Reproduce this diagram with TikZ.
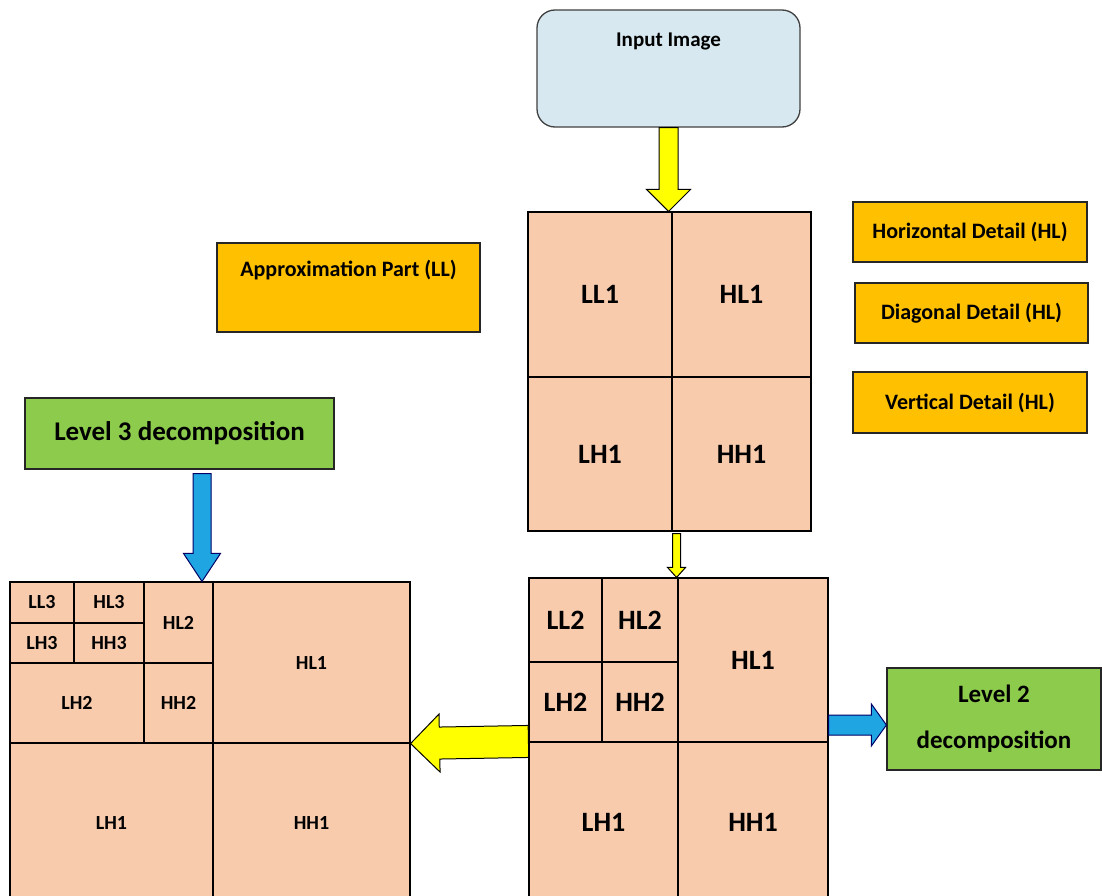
\documentclass[tikz,border=0pt]{standalone}
\usepackage{fontspec}
\setmainfont{Carlito}
\usetikzlibrary{calc}

\definecolor{peach}{HTML}{F8CBAD}
\definecolor{gold}{HTML}{FFC000}
\definecolor{leaf}{HTML}{8DCB4C}
\definecolor{paleblue}{HTML}{D8E8F0}
\definecolor{skyblue}{HTML}{1FA6E2}
\definecolor{brightyellow}{HTML}{FFFF00}

% a rectangle cell of a decomposition grid, given by its corners
\newcommand\gridcell[7][]{%
  \node[cell,#1,minimum width={(#5)-(#3)},minimum height={(#6)-(#4)}]
    (#2) at ({((#3)+(#5))/2},{((#4)+(#6))/2}) {#7};}

% a fat block arrow from tail #1 to tip #2:
% shaft half width #3, head half width #4, head length #5, style #6
\newcommand\blockarrow[6]{%
  \coordinate (ba-base) at ($(#2)!#5!(#1)$);
  \path[#6] ($(#1)!#3!90:(#2)$) -- ($(ba-base)!#3!90:(#2)$)
    -- ($(ba-base)!#4!90:(#2)$) -- (#2) -- ($(ba-base)!#4!-90:(#2)$)
    -- ($(ba-base)!#3!-90:(#2)$) -- ($(#1)!#3!-90:(#2)$) -- cycle;}

\begin{document}
\begin{tikzpicture}[x=1pt,y=-1pt,
  cell/.style={draw=black, line width=1.1pt, fill=peach, inner sep=0pt,
    font=\bfseries\fontsize{28}{30}\selectfont},
  smallcell/.style={font=\bfseries\fontsize{20}{22}\selectfont},
  tag/.style={draw=black!85, line width=1.1pt, fill=gold, inner sep=0pt,
    font=\bfseries\fontsize{22}{26}\selectfont},
  levelbox/.style={draw=black!85, line width=1.2pt, fill=leaf, inner sep=0pt,
    align=center},
  yellowarrow/.style={draw=black, line width=1pt, fill=brightyellow, line join=miter},
  bluearrow/.style={draw=black!60!blue, line width=1pt, fill=skyblue, line join=miter}]

\clip (0,0) rectangle (1102,896);
\fill[white] (0,0) rectangle (1102,896);

% input
\node[draw=black!75, line width=1.3pt, fill=paleblue, rounded corners=18pt,
  minimum width=263, minimum height=117, inner sep=0pt] (in) at (668.5,68.5) {};
\node[font=\bfseries\fontsize{21}{24}\selectfont, inner sep=0pt] (inl)
  at ($(in.north)+(0,32)$) {Input Image};

% sub-band legend
\node[tag, minimum width=263, minimum height=89] (ll) at (348.5,287.5) {};
\node[font=\bfseries\fontsize{22}{26}\selectfont, inner sep=0pt] (lll)
  at ($(ll.north)+(0,28)$) {Approximation Part (LL)};
\node[tag, minimum width=234, minimum height=60] (hd) at (970,232) {Horizontal Detail (HL)};
\node[tag, minimum width=233, minimum height=60] (dd) at (971.5,313) {Diagonal Detail (HL)};
\node[tag, minimum width=234, minimum height=61] (vd) at (970,402.5) {Vertical Detail (HL)};

% level 1
\gridcell{aLL1}{528}{212}{672}{377}{LL1}
\gridcell{aHL1}{672}{212}{811}{377}{HL1}
\gridcell{aLH1}{528}{377}{672}{531}{LH1}
\gridcell{aHH1}{672}{377}{811}{531}{HH1}

% level 2
\gridcell{bLL2}{529}{578}{602}{662}{LL2}
\gridcell{bHL2}{602}{578}{678}{662}{HL2}
\gridcell{bLH2}{529}{662}{602}{742}{LH2}
\gridcell{bHH2}{602}{662}{678}{742}{HH2}
\gridcell{bHL1}{678}{578}{828}{742}{HL1}
\gridcell{bLH1}{529}{742}{678}{902}{LH1}
\gridcell{bHH1}{678}{742}{828}{902}{HH1}

% level 3
\gridcell[smallcell]{cLL3}{10}{582}{74}{623}{LL3}
\gridcell[smallcell]{cHL3}{74}{582}{144}{623}{HL3}
\gridcell[smallcell]{cLH3}{10}{623}{74}{663}{LH3}
\gridcell[smallcell]{cHH3}{74}{623}{144}{663}{HH3}
\gridcell[smallcell]{cHL2}{144}{582}{213}{663}{HL2}
\gridcell[smallcell]{cLH2}{10}{663}{144}{743}{LH2}
\gridcell[smallcell]{cHH2}{144}{663}{213}{743}{HH2}
\gridcell[smallcell]{cHL1}{213}{582}{410}{743}{HL1}
\gridcell[smallcell]{cLH1}{10}{743}{213}{902}{LH1}
\gridcell[smallcell]{cHH1}{213}{743}{410}{902}{HH1}

% level captions
\node[levelbox, minimum width=309, minimum height=71,
  font=\bfseries\fontsize{27}{30}\selectfont] (lv3) at (179.5,433.5)
  {\raisebox{4pt}{Level 3 decomposition}};
\node[levelbox, minimum width=214, minimum height=102,
  font=\bfseries\fontsize{25}{46}\selectfont] (lv2) at (994,719)
  {Level 2\\decomposition};

% arrows
\coordinate (a1t) at (in.south);
\coordinate (a1h) at (a1t |- aLL1.north);
\blockarrow{a1t}{a1h}{9.5pt}{22pt}{22pt}{yellowarrow}

\coordinate (a2t) at ($(aLH1.south east)+(4,2)$);
\coordinate (a2h) at (a2t |- bHL1.north);
\blockarrow{a2t}{a2h}{4pt}{9pt}{10pt}{yellowarrow}

\coordinate (a3t) at (bLH1.north west);
\coordinate (a3h) at (cHL1.south east);
\blockarrow{a3t}{a3h}{16pt}{29pt}{29pt}{yellowarrow}

\coordinate (a4h) at ($(lv2.west)+(0,6)$);
\coordinate (a4t) at (a4h -| bHL1.east);
\blockarrow{a4t}{a4h}{10pt}{21pt}{15pt}{bluearrow}

\coordinate (a5t) at ($(lv3.south)+(22.5,4)$);
\coordinate (a5h) at (a5t |- cHL1.north);
\blockarrow{a5t}{a5h}{9pt}{18.5pt}{28pt}{bluearrow}

\end{tikzpicture}
\end{document}
